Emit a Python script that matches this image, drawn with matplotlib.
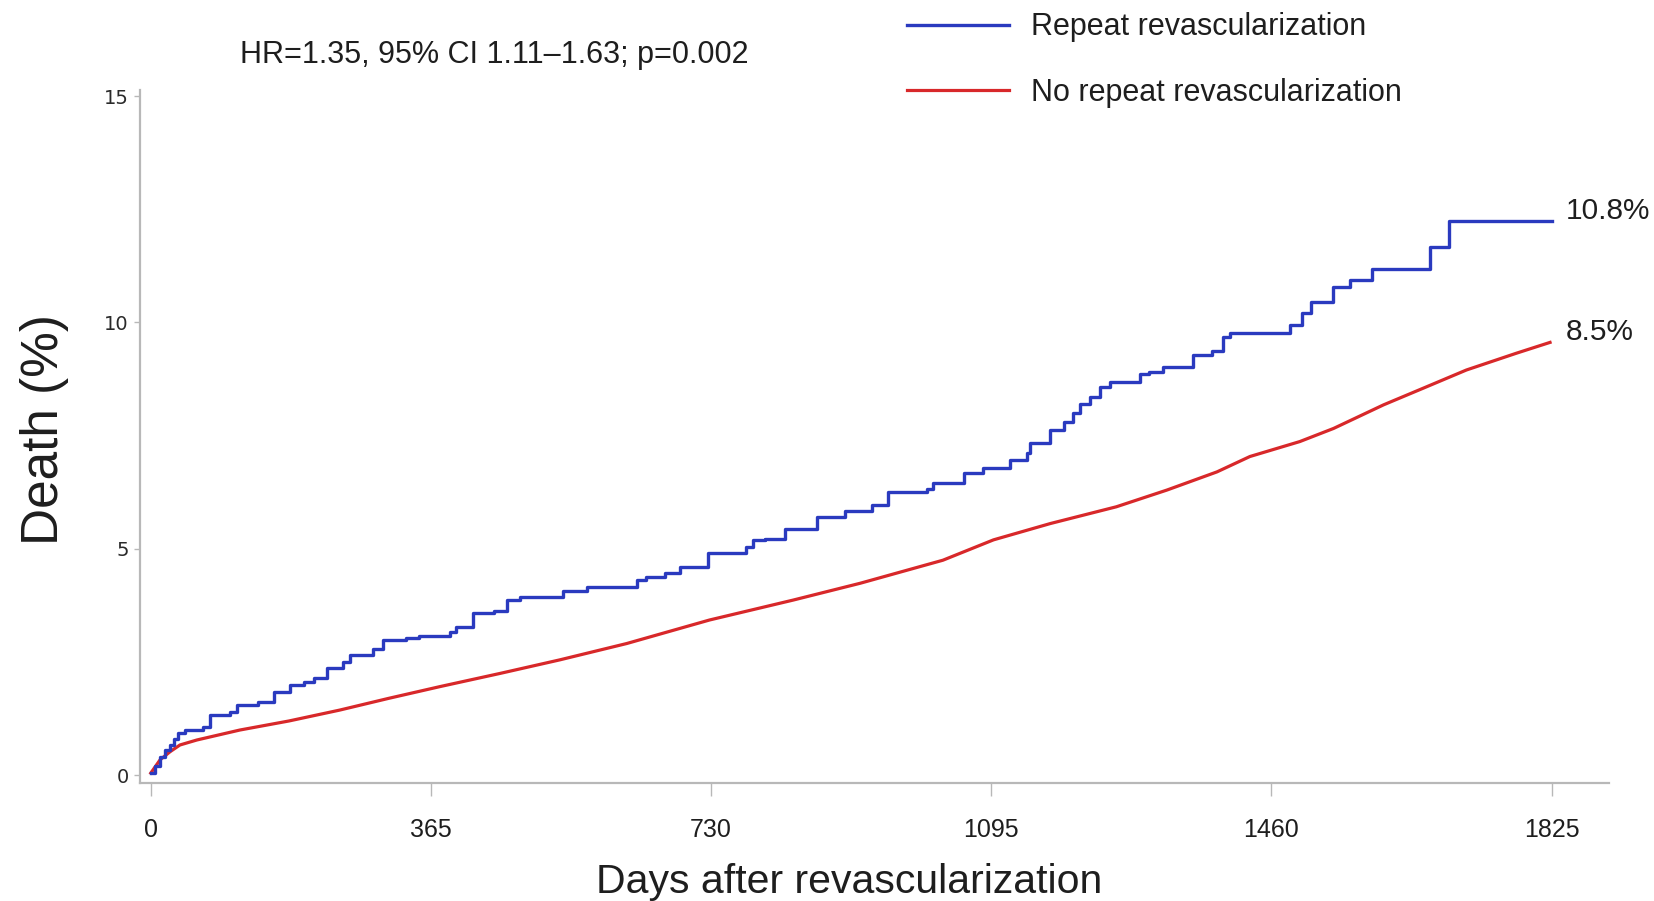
import matplotlib
matplotlib.use("Agg")
import matplotlib.pyplot as plt

# Cumulative mortality after revascularization (days, % death)
day_ticks = [0, 365, 730, 1095, 1460, 1825]
death_ticks = [0, 5, 10, 15]

repeat_days = [0, 5, 12, 18, 25, 30, 36, 45, 68, 77, 103, 112, 140, 160, 181,
               200, 212, 229, 251, 259, 290, 303, 333, 350, 390, 398, 420, 447,
               464, 481, 537, 568, 633, 645, 670, 689, 726, 776, 785, 800, 826,
               868, 905, 940, 960, 1011, 1019, 1059, 1084, 1119, 1141, 1145,
               1171, 1190, 1202, 1211, 1224, 1237, 1250, 1289, 1300, 1319, 1358,
               1383, 1397, 1406, 1484, 1500, 1512, 1540, 1562, 1591, 1666, 1691,
               1825]
repeat_death = [0.05, 0.20, 0.41, 0.55, 0.67, 0.80, 0.94, 1.00, 1.07, 1.33,
                1.40, 1.55, 1.62, 1.84, 1.99, 2.05, 2.14, 2.36, 2.51, 2.66,
                2.80, 2.99, 3.03, 3.08, 3.17, 3.28, 3.58, 3.62, 3.87, 3.94,
                4.08, 4.15, 4.31, 4.39, 4.47, 4.59, 4.90, 5.05, 5.19, 5.22,
                5.44, 5.71, 5.84, 5.97, 6.25, 6.33, 6.46, 6.67, 6.78, 6.96,
                7.11, 7.33, 7.62, 7.80, 7.99, 8.21, 8.36, 8.57, 8.69, 8.87,
                8.90, 9.02, 9.28, 9.36, 9.68, 9.76, 9.94, 10.20, 10.46, 10.79,
                10.94, 11.19, 11.67, 12.25, 12.25]

norepeat_days = [0, 12, 25, 38, 60, 116, 180, 246, 310, 377, 455, 533, 620,
                 728, 837, 924, 1032, 1098, 1172, 1258, 1324, 1389, 1432, 1497,
                 1541, 1606, 1658, 1714, 1779, 1823]
norepeat_death = [0.05, 0.34, 0.52, 0.67, 0.78, 1.00, 1.20, 1.44, 1.70, 1.96,
                  2.25, 2.55, 2.91, 3.43, 3.87, 4.24, 4.75, 5.20, 5.56, 5.93,
                  6.30, 6.70, 7.04, 7.37, 7.66, 8.18, 8.55, 8.95, 9.32, 9.56]

group_names = ["Repeat revascularization", "No repeat revascularization"]
end_labels = ["10.8%", "8.5%"]
stats_text = "HR=1.35, 95% CI 1.11\u20131.63; p=0.002"

BLUE = "#2a3abf"
RED = "#d8282a"
AXIS_GREY = "#b8b8b8"
TEXT = "#1e1e1e"
SANS = ["Liberation Sans", "DejaVu Sans"]
TICK_FONT = ["DejaVu Sans"]

W, H = 1654, 901
fig = plt.figure(figsize=(W / 100, H / 100), dpi=100)
fig.patch.set_facecolor("white")

ax = fig.add_axes([140 / W, 1 - 782.7 / H, 1468.6 / W, (782.7 - 89.7) / H])
ax.set_xlim(-14.07, 1899.3)
ax.set_ylim(-0.163, 15.14)

line_rep, = ax.step(repeat_days, repeat_death, where="post", color=BLUE,
                    lw=2.4, label=group_names[0], zorder=3)
line_norep, = ax.plot(norepeat_days, norepeat_death, color=RED, lw=2.3,
                      label=group_names[1], zorder=2)

for sp in ("top", "right"):
    ax.spines[sp].set_visible(False)
for sp in ("left", "bottom"):
    ax.spines[sp].set_color(AXIS_GREY)
    ax.spines[sp].set_linewidth(1.6)

ax.set_xticks(day_ticks)
ax.set_xticklabels([str(d) for d in day_ticks], family=SANS, fontsize=18,
                   color=TEXT)
ax.set_yticks(death_ticks)
ax.set_yticklabels([str(v) for v in death_ticks], family=TICK_FONT,
                   fontsize=14, color="#2a2a2a")
ax.tick_params(axis="x", length=9, width=1.0, color=AXIS_GREY, pad=16.5)
ax.tick_params(axis="y", length=4, width=1.0, color=AXIS_GREY, pad=4)

ax.set_xlabel("Days after revascularization", family=SANS, fontsize=29.5,
              color=TEXT, labelpad=15)
ax.xaxis.label.set_x(0.4828)
ax.set_ylabel("Death (%)", family=SANS, fontsize=37, color=TEXT,
              labelpad=25)
ax.yaxis.label.set_y(0.51)

# Five-year rates at the end of each curve
for xs, ys, txt in ((repeat_days, repeat_death, end_labels[0]),
                    (norepeat_days, norepeat_death, end_labels[1])):
    ax.text(1844, ys[-1] + 0.22, txt, family=SANS, fontsize=21.4,
            color=TEXT, ha="left", va="center")

fig.text(240.5 / W, 1 - 55 / H, stats_text, family=SANS, fontsize=22,
         color=TEXT, ha="left", va="center")

leg = ax.legend(handles=[line_rep, line_norep], loc="upper left",
                bbox_to_anchor=(907 / W, 1 - 12.3 / H),
                bbox_transform=fig.transFigure, frameon=False,
                prop={"family": SANS, "size": 22}, handlelength=3.35,
                handletextpad=0.72, labelspacing=1.17, borderpad=0,
                borderaxespad=0)
for t in leg.get_texts():
    t.set_color(TEXT)

fig.savefig("out.png", dpi=100, facecolor="white")
